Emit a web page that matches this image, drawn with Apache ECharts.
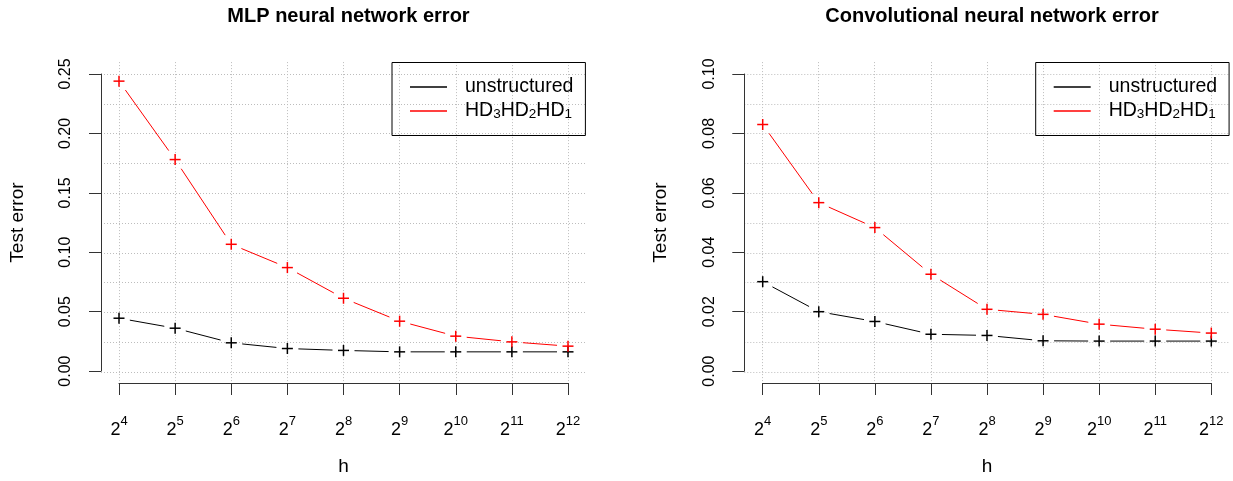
<!DOCTYPE html>
<html>
<head>
<meta charset="utf-8">
<script src="https://cdn.jsdelivr.net/npm/echarts@6/dist/echarts.min.js"></script>
<style>
html,body{margin:0;padding:0;background:#fff;}
#chart{width:1233px;height:481px;}
</style>
</head>
<body>
<div id="chart"></div>
<script>
// ---- data ----
const xExponents = [4, 5, 6, 7, 8, 9, 10, 11, 12];          // h = 2^x
const seriesNames = ['unstructured', 'HD3HD2HD1'];
const mlpUnstructured = [0.0445, 0.0361, 0.0238, 0.0190, 0.0174, 0.0162, 0.0162, 0.0162, 0.0162];
const mlpHD = [0.244, 0.178, 0.1067, 0.0871, 0.0613, 0.0420, 0.0294, 0.0246, 0.0210];
const cnnUnstructured = [0.0301, 0.0200, 0.0167, 0.0124, 0.0120, 0.0102, 0.0101, 0.0101, 0.0101];
const cnnHD = [0.0830, 0.0567, 0.0483, 0.0326, 0.0208, 0.0191, 0.0158, 0.0141, 0.0128];
const mlpYTicks = [0, 0.05, 0.10, 0.15, 0.20, 0.25];
const mlpYGrid = [0, 0.025, 0.05, 0.075, 0.10, 0.125, 0.15, 0.175, 0.20, 0.225, 0.25];
const cnnYTicks = [0, 0.02, 0.04, 0.06, 0.08, 0.10];
const cnnYGrid = [0, 0.01, 0.02, 0.03, 0.04, 0.05, 0.06, 0.07, 0.08, 0.09, 0.10];
const titles = ['MLP neural network error', 'Convolutional neural network error'];

// ---- styling ----
const FONT = '"Liberation Sans", Arial, Helvetica, sans-serif';
const RED = '#ff0000', BLACK = '#000000';
const AXIS = '#333333';
const GRIDC = '#bdbdbd';

function makeRender(xs, vals, color) {
  return function (params, api) {
    const i = params.dataIndex;
    const p = api.coord([api.value(0), api.value(1)]);
    const s = 5.5;
    const children = [
      {type: 'line', shape: {x1: p[0] - s, y1: p[1], x2: p[0] + s, y2: p[1]}, style: {stroke: color, lineWidth: 1.5}},
      {type: 'line', shape: {x1: p[0], y1: p[1] - s, x2: p[0], y2: p[1] + s}, style: {stroke: color, lineWidth: 1.5}}
    ];
    if (i < vals.length - 1) {
      const q = api.coord([xs[i + 1], vals[i + 1]]);
      const dx = q[0] - p[0], dy = q[1] - p[1];
      const L = Math.sqrt(dx * dx + dy * dy);
      const g = 11;
      if (L > 2 * g) {
        children.push({type: 'line', shape: {
          x1: p[0] + dx * g / L, y1: p[1] + dy * g / L,
          x2: q[0] - dx * g / L, y2: q[1] - dy * g / L
        }, style: {stroke: color, lineWidth: 1}});
      }
    }
    return {type: 'group', children: children};
  };
}

function customSeries(name, vals, color, axisIdx) {
  return {
    type: 'custom',
    name: name,
    xAxisIndex: axisIdx, yAxisIndex: axisIdx,
    itemStyle: {color: color},
    data: xExponents.map((x, i) => [x, vals[i]]),
    renderItem: makeRender(xExponents, vals, color),
    clip: false,
    silent: true
  };
}

// layout of the two panels
const panels = [
  {axisX: 101, dataL: 119, dataR: 568, plotR: 586, ymax: 0.25, ticks: mlpYTicks, grid: mlpYGrid, dec: 2},
  {axisX: 744.3, dataL: 762.7, dataR: 1211.3, plotR: 1229.7, ymax: 0.10, ticks: cnnYTicks, grid: cnnYGrid, dec: 2}
];
const dataTop = 74, dataBottom = 372, plotTop = 62.1, plotBottom = 383.9;

const grids = [], xAxes = [], yAxes = [], titleArr = [], legends = [];
panels.forEach((pn, k) => {
  // plot region grid (for dotted grid lines)
  grids.push({left: pn.axisX, top: plotTop, width: pn.plotR - pn.axisX, height: plotBottom - plotTop, containLabel: false});
  // data-range grid (for axes and series)
  grids.push({left: pn.dataL, top: dataTop, width: pn.dataR - pn.dataL, height: dataBottom - dataTop, containLabel: false});
  const xspan = 8, yspan = pn.ymax;
  xAxes.push({
    gridIndex: 2 * k, type: 'value', min: 4 - 0.04 * xspan, max: 12 + 0.04 * xspan,
    axisLine: {show: false, onZero: false}, axisLabel: {show: false},
    axisTick: {show: false, customValues: xExponents},
    splitLine: {show: true, lineStyle: {color: GRIDC, type: [1, 2], width: 1}}
  });
  yAxes.push({
    gridIndex: 2 * k, type: 'value', min: -0.04 * yspan, max: yspan * 1.04,
    axisLine: {show: false, onZero: false}, axisLabel: {show: false},
    axisTick: {show: false, customValues: pn.grid},
    splitLine: {show: true, lineStyle: {color: GRIDC, type: [1, 2], width: 1}}
  });
  xAxes.push({
    gridIndex: 2 * k + 1, type: 'value', min: 4, max: 12, interval: 1, position: 'bottom',
    offset: plotBottom - dataBottom,
    axisLine: {show: true, onZero: false, lineStyle: {color: AXIS, width: 1}},
    axisTick: {show: true, length: 12, inside: false, lineStyle: {color: AXIS, width: 1}},
    splitLine: {show: false},
    axisLabel: {
      margin: 32, fontFamily: FONT,
      formatter: v => '{b|2}{s|' + v + '}',
      rich: {
        b: {fontSize: 18, color: '#000', fontFamily: FONT, lineHeight: 24, verticalAlign: 'bottom'},
        s: {fontSize: 13, color: '#000', fontFamily: FONT, lineHeight: 13, verticalAlign: 'top'}
      }
    },
    name: 'h', nameLocation: 'middle', nameGap: 74,
    nameTextStyle: {fontSize: 19, color: '#000', fontFamily: FONT}
  });
  yAxes.push({
    gridIndex: 2 * k + 1, type: 'value', min: 0, max: pn.ymax, position: 'left',
    offset: pn.dataL - pn.axisX,
    axisLine: {show: true, onZero: false, lineStyle: {color: AXIS, width: 1}},
    axisTick: {show: true, length: 12, inside: false, customValues: pn.ticks, lineStyle: {color: AXIS, width: 1}},
    splitLine: {show: false},
    axisLabel: {
      customValues: pn.ticks, rotate: 90, margin: 27, fontSize: 16, color: '#000', fontFamily: FONT,
      formatter: v => v.toFixed(pn.dec)
    },
    name: 'Test error', nameLocation: 'middle', nameGap: 74, nameRotate: 90,
    nameTextStyle: {fontSize: 19, color: '#000', fontFamily: FONT}
  });
  titleArr.push({
    text: titles[k], left: (pn.axisX + pn.plotR) / 2, textAlign: 'center', top: 1,
    textStyle: {fontSize: 20, fontWeight: 'bold', color: '#000', fontFamily: FONT}
  });
  legends.push({
    orient: 'vertical', left: pn.plotR - 194, top: 62.5,
    data: seriesNames,
    icon: 'path://M0,0H100V4H0Z', itemWidth: 37, itemHeight: 1.5, itemGap: 4,
    borderColor: '#000', borderWidth: 1, borderRadius: 0,
    padding: [14.5, 12, 14, 18],
    selectedMode: false,
    formatter: n => n === 'HD3HD2HD1' ? '{m|HD}{s|3}{m|HD}{s|2}{m|HD}{s|1}' : '{m|' + n + '}',
    textStyle: {
      padding: [0, 0, 0, 13],
      rich: {
        m: {fontSize: 19.5, color: '#000', fontFamily: FONT, lineHeight: 21, verticalAlign: 'middle'},
        s: {fontSize: 13.5, color: '#000', fontFamily: FONT, lineHeight: 14, verticalAlign: 'bottom'}
      }
    }
  });
});

const series = [
  customSeries('unstructured', mlpUnstructured, BLACK, 1),
  customSeries('HD3HD2HD1', mlpHD, RED, 1),
  customSeries('unstructured', cnnUnstructured, BLACK, 3),
  customSeries('HD3HD2HD1', cnnHD, RED, 3)
];

const chart = echarts.init(document.getElementById('chart'), null, {renderer: 'canvas'});
chart.setOption({
  animation: false,
  backgroundColor: '#ffffff',
  title: titleArr,
  legend: legends,
  grid: grids,
  xAxis: xAxes,
  yAxis: yAxes,
  series: series
});
</script>
</body>
</html>
